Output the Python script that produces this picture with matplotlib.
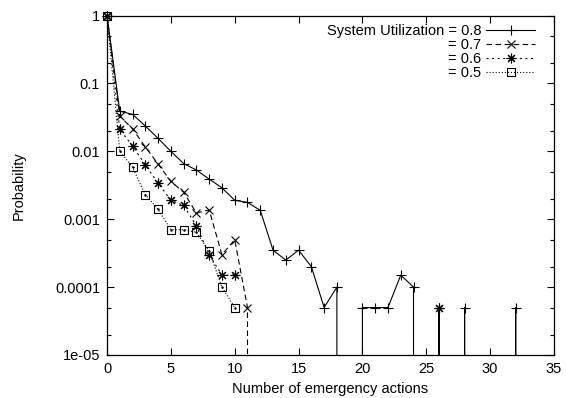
import numpy as np
import matplotlib
matplotlib.use("Agg")
import matplotlib.pyplot as plt
from matplotlib.ticker import FixedLocator, FixedFormatter, NullFormatter

plt.rcParams["font.family"] = ["Liberation Sans", "DejaVu Sans"]
plt.rcParams["font.size"] = 10.5
plt.rcParams["lines.scale_dashes"] = False

# ── data ──────────────────────────────────────────────────────────────────────

x = np.arange(0, 34)

# utilization 0.8: zeros drop to the bottom of the log axis
u08 = [1, 0.039, 0.035, 0.0236, 0.0155, 0.0100, 0.0066, 0.0053, 0.0039,
       0.0029, 0.0019, 0.00177, 0.00135, 0.00035, 0.00025, 0.00035, 0.0002,
       0.00005, 0.0001, 0, 0.00005, 0.00005, 0.00005, 0.00015, 0.0001, 0,
       0.00005, 0, 0.00005, 0, 0, 0, 0.00005, 0]
u07 = [1, 0.033, 0.0215, 0.0116, 0.0065, 0.0036, 0.0025, 0.00123, 0.00137,
       0.0003, 0.0005, 0.00005, 0]
u06 = [1, 0.021, 0.012, 0.0063, 0.0034, 0.0019, 0.0016, 0.0008, 0.0003,
       0.00015, 0.00015]
u06_extra_x = [26]
u06_extra_y = [0.00005]
u05 = [1, 0.0101, 0.0058, 0.0023, 0.0014, 0.0007, 0.0007, 0.00064, 0.00034,
       0.0001, 0.00005]

labels = ["System Utilization = 0.8", "= 0.7", "= 0.6", "= 0.5"]
xticks = [0, 5, 10, 15, 20, 25, 30, 35]
yticks = [1e-5, 1e-4, 1e-3, 1e-2, 1e-1, 1]
ytick_labels = ["1e-05", "0.0001", "0.001", "0.01", "0.1", "1"]

# ── figure ────────────────────────────────────────────────────────────────────

fig = plt.figure(figsize=(5.66, 3.98), dpi=100)
ax = fig.add_axes([107 / 566, 1 - 355 / 398, (554 - 107) / 566, (355 - 15.5) / 398])
ax.set_yscale("log", nonpositive="clip")

lw = 0.8
styles = [
    dict(ls="-", marker="+", ms=7),
    dict(ls=(0, (4, 2.5)), marker="x", ms=6),
    dict(ls=(0, (1.5, 2.5)), marker=(8, 2, 0), ms=7),
    dict(ls=(0, (0.8, 1.4)), marker="s", ms=6, mfc="none"),
]
series = [u08, u07, u06, u05]

handles = []
for vals, st, lab in zip(series, styles, labels):
    xs = x[:len(vals)]
    ys = np.array(vals, dtype=float)
    ax.plot(xs, ys, color="black", lw=lw, ls=st["ls"])
    # markers separately so zero values draw none, and corner markers aren't clipped
    ym = np.where(ys > 0, ys, np.nan)
    ax.plot(xs, ym, ls="none", color="black", marker=st["marker"], ms=st["ms"],
            mew=lw, mfc=st.get("mfc", "black"), clip_on=False)
    h, = ax.plot([], [], color="black", lw=lw, ls=st["ls"], marker=st["marker"],
                 ms=st["ms"], mew=lw, mfc=st.get("mfc", "black"))
    handles.append(h)

# isolated 0.6 point and the dots inside the squares
ax.plot(u06_extra_x, u06_extra_y, ls="none", color="black", marker=(8, 2, 0),
        ms=7, mew=lw)
ax.plot(x[:len(u05)], u05, ls="none", color="black", marker=".", ms=1.5,
        clip_on=False)

ax.set_xlim(0, 35)
ax.set_ylim(1e-5, 1)
ax.xaxis.set_major_locator(FixedLocator(xticks))
ax.yaxis.set_major_locator(FixedLocator(yticks))
ax.yaxis.set_major_formatter(FixedFormatter(ytick_labels))
minor = [m * d for d in [1e-5, 1e-4, 1e-3, 1e-2, 1e-1] for m in (2, 5)]
ax.yaxis.set_minor_locator(FixedLocator(minor))
ax.yaxis.set_minor_formatter(NullFormatter())
ax.tick_params(which="both", direction="in", top=True, right=True, width=0.8)
ax.tick_params(which="major", length=5, pad=5)
ax.tick_params(which="minor", length=3)
for sp in ax.spines.values():
    sp.set_linewidth(0.9)

ax.set_xlabel("Number of emergency actions", labelpad=4.5)
ax.set_ylabel("Probability", labelpad=21)

leg = ax.legend(handles, labels, loc="upper right", frameon=False,
                markerfirst=False, handlelength=3.4, handletextpad=0.3,
                labelspacing=0.0, borderaxespad=0.2, bbox_to_anchor=(0.978, 1.0))
for vp in leg._legend_handle_box.get_children():
    vp.align = "right"

fig.savefig("out.png", dpi=100)
